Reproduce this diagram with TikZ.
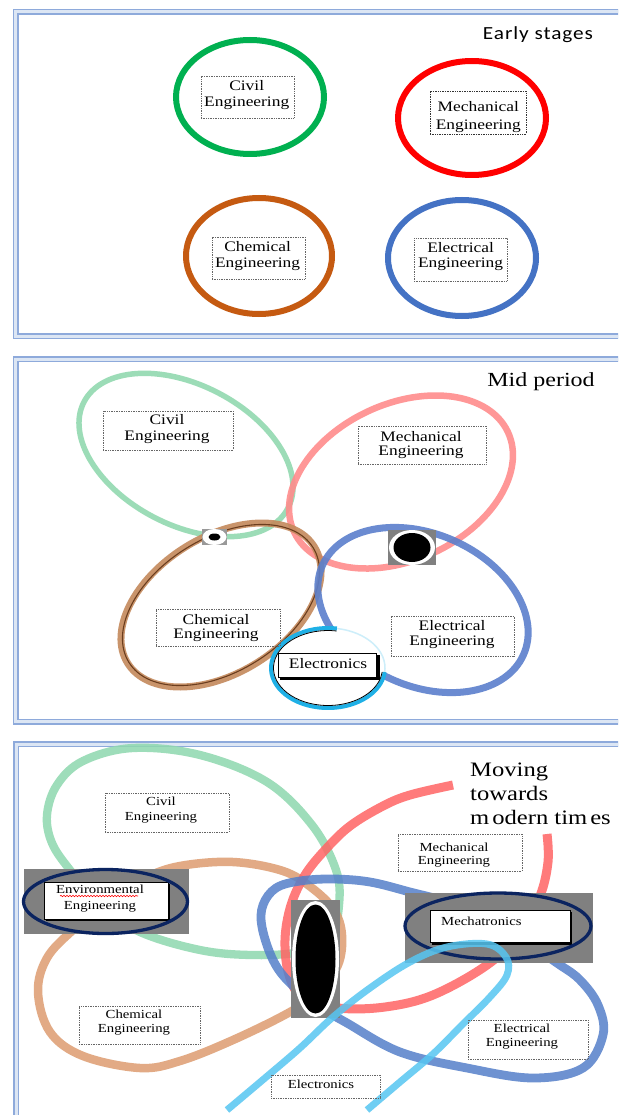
\documentclass[tikz,border=0pt]{standalone}
\usepackage{fontspec}
\setmainfont{Liberation Serif}
\newfontfamily\tf{Liberation Serif}[FakeStretch=1.2]
\newfontfamily\cf{Carlito}[FakeStretch=1.15,LetterSpace=5]
\usetikzlibrary{decorations.pathmorphing}
\definecolor{frameblue}{HTML}{8EAADB}
\definecolor{framelight}{HTML}{DCE6F4}
\definecolor{pAgreen}{HTML}{00B050}
\definecolor{pAred}{HTML}{FF0000}
\definecolor{pAbrown}{HTML}{C55A11}
\definecolor{pAblue}{HTML}{4472C4}
\definecolor{pBgreen}{HTML}{92D9B0}
\definecolor{pBred}{HTML}{FF8C8C}
\definecolor{pBbrown}{HTML}{C4895C}
\definecolor{pBdark}{HTML}{6B3D1E}
\definecolor{pBblue}{HTML}{5B7FCC}
\definecolor{eCyan}{HTML}{1FB0E6}
\definecolor{eCyanFade}{HTML}{CDEEFA}
\definecolor{pCgreen}{HTML}{8ED8AE}
\definecolor{pCorange}{HTML}{DD9C70}
\definecolor{pCred}{HTML}{FF6464}
\definecolor{pCblue}{HTML}{5580CA}
\definecolor{pCcyan}{HTML}{56C6F2}
\definecolor{navy}{HTML}{0B2460}
\definecolor{boxgray}{HTML}{808080}
\begin{document}
\begin{tikzpicture}[x=1pt,y=-1pt,
  frame/.style={draw=frameblue,line width=1.5pt,double=framelight,double distance=3pt},
  dbox/.style={draw=black!60,dash pattern=on 0.8pt off 0.9pt,line width=0.7pt,inner sep=0pt},
  lbl/.style={font=\tf\fontsize{14.5}{15.5}\selectfont,align=center,inner sep=0pt},
  slbl/.style={font=\tf\fontsize{12.3}{14.5}\selectfont,align=center,inner sep=0pt},
  ttl/.style={font=\tf\fontsize{20.5}{24}\selectfont,inner sep=0pt},
  pA/.style={line width=6pt},
  pB/.style={line width=6pt,opacity=0.9},
  pC/.style={line width=8.8pt,opacity=0.85},
]
\useasboundingbox (0,0) rectangle (618,1115);
\clip (0,0) rectangle (618,1115);
\fill[white] (0,0) rectangle (618,1115);

% ================= Panel 1 =================
\draw[frame] (15.5,12) rectangle (680,336);
\node[font=\cf\fontsize{18.5}{20}\selectfont,inner sep=0pt] (titleA) at (538,35) {Early stages};
\draw[pA,pAgreen] (250,97) ellipse [x radius=74, y radius=57];
\draw[pA,pAred] (472,118) ellipse [x radius=74, y radius=57];
\draw[pA,pAbrown] (259,256) ellipse [x radius=73, y radius=58];
\draw[pA,pAblue] (462,258) ellipse [x radius=74, y radius=58];
\node[dbox,minimum width=93pt,minimum height=42pt] (bAciv) at (247.5,97) {};
\node[lbl] (tAciv) at (246.7,95) {Civil\\Engineering};
\node[dbox,draw=black!80,minimum width=96pt,minimum height=43pt] (bAmec) at (478,112.5) {};
\node[lbl,font=\tf\fontsize{14.5}{17.5}\selectfont] (tAmec) at (478.3,117) {Mechanical\\Engineering};
\node[dbox,minimum width=93pt,minimum height=42pt] (bAche) at (258.5,258) {};
\node[lbl] (tAche) at (257.6,256) {Chemical\\Engineering};
\node[dbox,minimum width=93pt,minimum height=43pt] (bAele) at (460.5,259.5) {};
\node[lbl] (tAele) at (460.6,256.6) {Electrical\\Engineering};

% ================= Panel 2 =================
\draw[frame] (15.5,359) rectangle (680,721.5);
\node[ttl,font=\tf\fontsize{20}{22}\selectfont] (titleB) at (541,382) {Mid period};
\draw[pB,pBgreen,line width=5.5pt] [rotate around={-27.5:(186,455)}] (186,455) ellipse [x radius=115, y radius=70];
\draw[pB,pBred,line width=6.5pt] [rotate around={25:(401,482)}] (401,482) ellipse [x radius=118, y radius=78];
\draw[pB,pBbrown,line width=7pt] [rotate around={32:(221,605)}] (221,605) ellipse [x radius=110, y radius=68];
\draw[pBdark,line width=1.1pt] [rotate around={32:(221,605)}] (221,605) ellipse [x radius=108.5, y radius=66.5];
\draw[pB,pBblue,line width=7pt] [rotate around={-24:(423,610)}] (423,610) ellipse [x radius=110, y radius=76];
% Electronics circle
\fill[white] (328,668) ellipse [x radius=57, y radius=40];
\draw[eCyanFade,line width=1.5pt] (328,668) ++(-81:57 and 40) arc[start angle=-81, end angle=6, x radius=57, y radius=40];
\draw[eCyan,line width=4pt] (328,668) ++(-81:57 and 40) arc[start angle=-81, end angle=-354, x radius=57, y radius=40];
\draw[black,line width=0.8pt] (328,668) ++(-81:54.5 and 37.5) arc[start angle=-81, end angle=-354, x radius=54.5, y radius=37.5];
\fill[black] (280,655) rectangle (379.5,680);
\node[draw=black,line width=0.7pt,fill=white,minimum width=98pt,minimum height=24pt,inner sep=0pt] (bBelc) at (327.5,665.5) {};
\node[lbl] (tBelc) at (328,664) {Electronics};
% donuts
\fill[black!40] (202,529) rectangle (227,545);
\fill[white] (214.5,537) ellipse [x radius=12, y radius=8];
\fill[black] (214.5,537) ellipse [x radius=6, y radius=3.5];
\fill[boxgray] (388,530) rectangle (436,565);
\fill[white] (412,547.5) ellipse [x radius=23, y radius=17.5];
\fill[black] (412,547.5) ellipse [x radius=18.5, y radius=14.5];
% labels
\node[dbox,minimum width=130pt,minimum height=39pt] (bBciv) at (168,430.5) {};
\node[lbl] (tBciv) at (167,429.2) {Civil\\Engineering};
\node[dbox,minimum width=128pt,minimum height=38pt] (bBmec) at (422,445) {};
\node[lbl,font=\tf\fontsize{14.5}{14}\selectfont] (tBmec) at (421,444.7) {Mechanical\\Engineering};
\node[dbox,minimum width=124pt,minimum height=37pt] (bBche) at (218,627.5) {};
\node[lbl,font=\tf\fontsize{14.5}{14.5}\selectfont] (tBche) at (216,628) {Chemical\\Engineering};
\node[dbox,minimum width=123pt,minimum height=40pt] (bBele) at (452.5,636) {};
\node[lbl,font=\tf\fontsize{14.5}{14.5}\selectfont] (tBele) at (452,634.5) {Electrical\\Engineering};

% ================= Panel 3 =================
\draw[frame] (16,744) rectangle (680,1200);
\draw[pC,pCgreen,line width=8.3pt] plot[smooth cycle,tension=0.6] coordinates {(133,748) (200,755) (267,782) (312,825) (336,870) (339,905) (330,938) (300,952) (252,955) (200,950) (140,932) (100,905) (70,870) (52,843) (47,815) (57,785) (83,761)};
\draw[pC,pCorange,line width=8.5pt] plot[smooth cycle,tension=0.6] coordinates {(180,866) (233,862) (283,871) (312,888) (334,910) (342,935) (338,965) (318,992) (290,1012) (233,1040) (180,1061) (140,1068) (83,1056) (50,1032) (38,992) (47,958) (73,930) (110,900) (145,878)};
\draw[pC,pCred,line width=9pt] plot[smooth,tension=0.6] coordinates {(453,785) (410,795) (383,806) (350,826) (325,850) (305,875) (291,905) (285,940) (289,975) (303,998) (338,1008) (385,1007) (433,995) (487,965) (520,933) (540,896) (548,862) (547,834)};
\draw[pC,pCblue,line width=8.8pt] plot[smooth cycle,tension=0.6] coordinates {(410,892) (370,882) (333,879) (300,881) (276,888) (263,905) (262,927) (273,960) (290,983) (320,1007) (347,1023) (400,1052) (467,1068) (533,1078) (583,1068) (603,1035) (598,1005) (580,980) (557,963) (500,925) (450,903)};
% Environmental
\fill[boxgray] (24,869) rectangle (189,934);
\fill[black] (46,884) rectangle (170,921);
\node[draw=black,line width=0.7pt,fill=white,minimum width=124pt,minimum height=37pt,inner sep=0pt] (bCenv) at (106,900.5) {};
\draw[navy,line width=3.3pt] (105.5,901.5) ellipse [x radius=82, y radius=32];
\node[slbl,font=\tf\fontsize{12.3}{16}\selectfont] (tCenv) at (100,899) {Environmental\\Engineering};
\draw[red,line width=0.6pt,decorate,decoration={snake,amplitude=0.7pt,segment length=3pt}] (60,896) -- (138,896);
% Mechatronics
\fill[boxgray] (405,893) rectangle (593,963);
\fill[black] (432,912) rectangle (572,944.5);
\node[draw=black,line width=0.7pt,fill=white,minimum width=140pt,minimum height=32pt,inner sep=0pt] (bCmtr) at (500,926) {};
\draw[navy,line width=3.3pt] (498,926) ellipse [x radius=93, y radius=33];
\node[slbl,anchor=west] (tCmtr) at (441,921) {Mechatronics};
% central oval
\fill[boxgray] (291,900) rectangle (340,1018);
\fill[white] (315.5,959) ellipse [x radius=23.5, y radius=58];
\fill[black] (315.5,959) ellipse [x radius=20, y radius=54.5];
% electronics hairpin
\draw[pC,pCcyan,line width=7pt] plot[smooth,tension=0.6] coordinates {(227,1110) (265,1078) (300,1048) (333,1017) (370,988) (410,962) (447,947) (487,944) (506,957) (507,975) (490,997) (462,1025) (433,1054) (400,1082) (367,1110)};
% labels
\node[dbox,minimum width=124pt,minimum height=39pt] (bCciv) at (167,812.5) {};
\node[slbl,font=\tf\fontsize{12.3}{15}\selectfont] (tCciv) at (161,809.6) {Civil\\Engineering};
\node[dbox,minimum width=124pt,minimum height=37pt] (bCmec) at (460,852.5) {};
\node[slbl,font=\tf\fontsize{12.3}{12.5}\selectfont] (tCmec) at (454,855) {Mechanical\\Engineering};
\node[dbox,minimum width=121pt,minimum height=38pt] (bCche) at (139.5,1025) {};
\node[slbl,font=\tf\fontsize{12.3}{14}\selectfont] (tCche) at (134,1023) {Chemical\\Engineering};
\node[dbox,minimum width=120pt,minimum height=39pt] (bCele) at (528,1039.5) {};
\node[slbl,font=\tf\fontsize{12.3}{14}\selectfont] (tCele) at (522,1037) {Electrical\\Engineering};
\node[dbox,minimum width=109pt,minimum height=23pt] (bCelc) at (325.5,1086.5) {};
\node[slbl] (tCelc) at (321,1084) {Electronics};
\node[ttl,anchor=base west] (titleC1) at (470,776) {Moving};
\node[ttl,anchor=base west] (titleC2) at (470,800) {towards};
\node[ttl,anchor=base west] (titleC3) at (470,824) {m\hspace{3pt}odern tim\hspace{3pt}es};
\end{tikzpicture}
\end{document}
